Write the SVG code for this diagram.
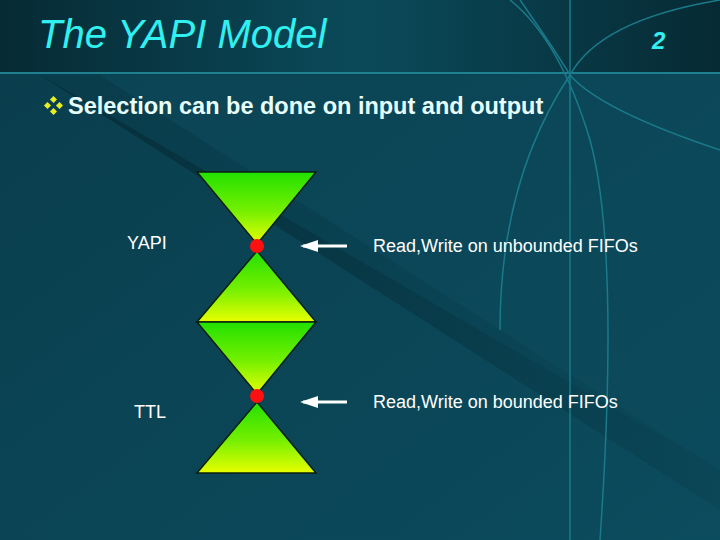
<svg xmlns="http://www.w3.org/2000/svg" width="720" height="540" viewBox="0 0 720 540">
<defs>
<linearGradient id="bg" x1="0" y1="0" x2="1" y2="1"><stop offset="0" stop-color="#0a3d4c"/><stop offset="1" stop-color="#0b4c5e"/></linearGradient>
<linearGradient id="top" x1="0" y1="0" x2="1" y2="0"><stop offset="0" stop-color="#062a34"/><stop offset="0.5" stop-color="#0b4a5a"/><stop offset="1" stop-color="#062a34"/></linearGradient>
<linearGradient id="down" x1="0" y1="0" x2="0" y2="1"><stop offset="0" stop-color="#22e000"/><stop offset="0.55" stop-color="#77f000"/><stop offset="1" stop-color="#e8ff00"/></linearGradient>
<linearGradient id="up" x1="0" y1="1" x2="0" y2="0"><stop offset="0" stop-color="#e8ff00"/><stop offset="0.45" stop-color="#77f000"/><stop offset="1" stop-color="#22e000"/></linearGradient>
<linearGradient id="band" x1="0" y1="0" x2="1" y2="0"><stop offset="0" stop-color="#03222b" stop-opacity="0.9"/><stop offset="1" stop-color="#03222b" stop-opacity="0.2"/></linearGradient>
<marker id="ah" markerWidth="6" markerHeight="4" refX="5" refY="2" orient="auto"><path d="M0,0 L6,2 L0,4 z" fill="#fff"/></marker>
<style>
.tri{stroke:#0a1f10;stroke-width:1.5}
.lbl{font-family:"Liberation Sans",Arial,sans-serif;fill:#fff;font-size:18px}
.dot{fill:#ff1010}
.conn{stroke:#fff;stroke-width:3}
</style>
</defs>
<rect width="720" height="540" fill="url(#bg)"/>
<polygon points="40,75 100,75 720,470 720,510" fill="url(#band)" opacity="0.6"/>
<polygon points="40,75 720,75 720,470" fill="#0b4a5c" opacity="0.5"/>
<rect width="720" height="73" fill="url(#top)"/>
<line x1="0" y1="73" x2="720" y2="73" stroke="#1f8090" stroke-width="2"/>
<line x1="570" y1="0" x2="570" y2="540" stroke="#1a7a8a" stroke-width="1.5"/>
<g fill="none" stroke="#1a7a8a" stroke-width="1.5">
<path d="M510,0 Q560,40 590,140 Q620,250 600,540"/>
<path d="M520,0 Q555,50 570,75 Q600,110 720,150"/>
<path d="M720,0 Q600,20 570,75 Q500,180 500,330"/>
</g>
<text x="38" y="48" font-family="Liberation Sans,Arial,sans-serif" font-size="40" font-style="italic" fill="#30f0f0">The YAPI Model</text>
<text x="652" y="49" font-family="Liberation Sans,Arial,sans-serif" font-size="24" font-weight="bold" font-style="italic" fill="#30f0f0">2</text>
<g fill="#e8f020"><rect x="51" y="97" width="5" height="5" transform="rotate(45 53.5 99.5)"/><rect x="57" y="103" width="5" height="5" transform="rotate(45 59.5 105.5)"/><rect x="51" y="109" width="5" height="5" transform="rotate(45 53.5 111.5)"/><rect x="45" y="103" width="5" height="5" transform="rotate(45 47.5 105.5)"/></g>
<text x="68" y="114" font-family="Liberation Sans,Arial,sans-serif" font-size="23.5" font-weight="bold" fill="#e8ffff">Selection can be done on input and output</text>
<g id="yapi">
<polygon class="tri" points="197,172 316,172 257,244" fill="url(#down)"/>
<polygon class="tri" points="257,251 316,322 197,322" fill="url(#up)"/>
<circle class="dot" cx="257" cy="246" r="7"/>
<text class="lbl" x="127" y="249" font-size="20">YAPI</text>
<text class="lbl" x="373" y="252">Read,Write on unbounded FIFOs</text>
</g>
<g id="ttl">
<polygon class="tri" points="197,322 316,322 257,394" fill="url(#down)"/>
<polygon class="tri" points="257,402 316,473 197,473" fill="url(#up)"/>
<circle class="dot" cx="257" cy="396" r="7"/>
<text class="lbl" x="134" y="418" font-size="20">TTL</text>
<text class="lbl" x="373" y="408">Read,Write on bounded FIFOs</text>
</g>
<g id="connectors">
<line class="conn" x1="347" y1="246" x2="303" y2="246" marker-end="url(#ah)"/>
<line class="conn" x1="347" y1="402" x2="303" y2="402" marker-end="url(#ah)"/>
</g>
</svg>
